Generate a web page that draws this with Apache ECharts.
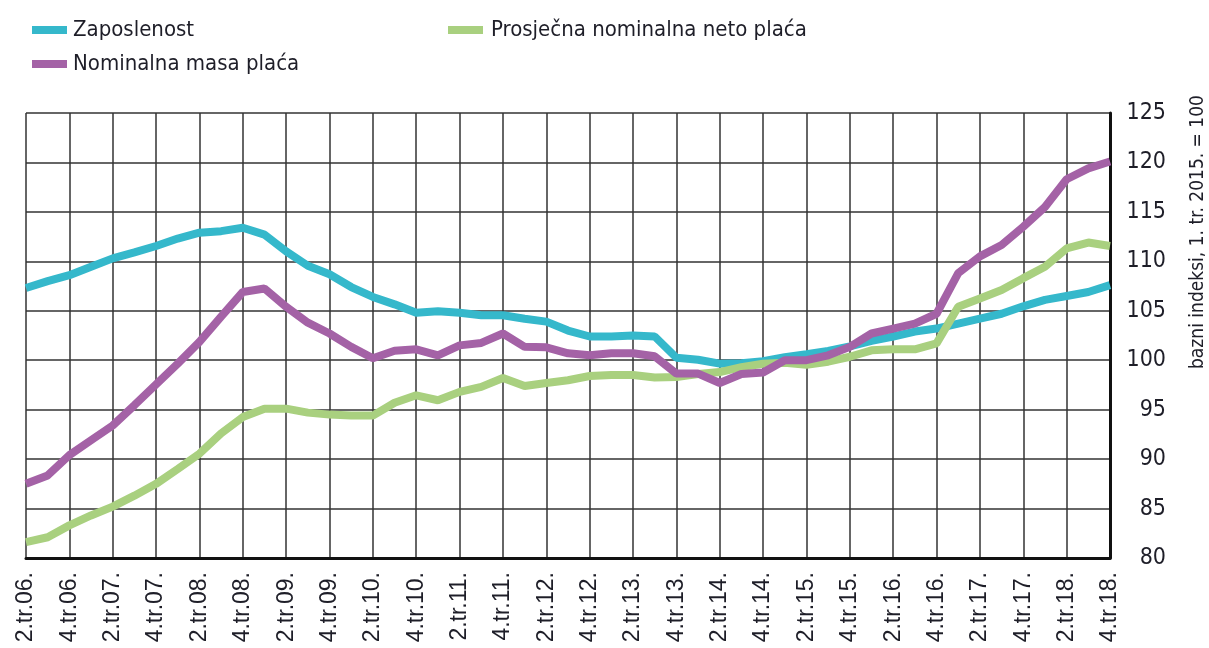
<!DOCTYPE html>
<html>
<head>
<meta charset="utf-8">
<script src="https://cdn.jsdelivr.net/npm/echarts@6/dist/echarts.min.js"></script>
<style>
html,body{margin:0;padding:0;background:#fff;}
#chart{width:1209px;height:648px;}
</style>
</head>
<body>
<div id="chart"></div>
<script>
var categories = [
  "2.tr.06.","3.tr.06.","4.tr.06.",
  "1.tr.07.","2.tr.07.","3.tr.07.","4.tr.07.",
  "1.tr.08.","2.tr.08.","3.tr.08.","4.tr.08.",
  "1.tr.09.","2.tr.09.","3.tr.09.","4.tr.09.",
  "1.tr.10.","2.tr.10.","3.tr.10.","4.tr.10.",
  "1.tr.11.","2.tr.11.","3.tr.11.","4.tr.11.",
  "1.tr.12.","2.tr.12.","3.tr.12.","4.tr.12.",
  "1.tr.13.","2.tr.13.","3.tr.13.","4.tr.13.",
  "1.tr.14.","2.tr.14.","3.tr.14.","4.tr.14.",
  "1.tr.15.","2.tr.15.","3.tr.15.","4.tr.15.",
  "1.tr.16.","2.tr.16.","3.tr.16.","4.tr.16.",
  "1.tr.17.","2.tr.17.","3.tr.17.","4.tr.17.",
  "1.tr.18.","2.tr.18.","3.tr.18.","4.tr.18."
];
var zaposlenost = [107.3, 108.0, 108.6, 109.45, 110.3, 110.9, 111.55, 112.3, 112.9, 113.05, 113.4, 112.7, 111.0, 109.55, 108.7, 107.4, 106.4, 105.65, 104.8, 104.95, 104.8, 104.55, 104.55, 104.2, 103.9, 103.0, 102.4, 102.4, 102.5, 102.4, 100.25, 100.05, 99.65, 99.7, 99.9, 100.3, 100.6, 100.95, 101.4, 101.95, 102.4, 102.9, 103.2, 103.7, 104.2, 104.7, 105.45, 106.1, 106.5, 106.9, 107.6];
var masaPlaca = [87.5, 88.35, 90.4, 91.9, 93.4, 95.45, 97.55, 99.65, 101.85, 104.4, 106.9, 107.25, 105.4, 103.8, 102.7, 101.35, 100.2, 100.95, 101.1, 100.5, 101.5, 101.75, 102.7, 101.35, 101.3, 100.7, 100.5, 100.7, 100.7, 100.4, 98.65, 98.65, 97.7, 98.6, 98.75, 100.0, 100.0, 100.5, 101.35, 102.7, 103.2, 103.7, 104.7, 108.8, 110.5, 111.65, 113.5, 115.5, 118.3, 119.4, 120.1];
var netoPlaca = [81.6, 82.1, 83.3, 84.3, 85.2, 86.3, 87.5, 89.0, 90.55, 92.6, 94.25, 95.1, 95.1, 94.7, 94.5, 94.4, 94.4, 95.7, 96.45, 95.95, 96.8, 97.3, 98.2, 97.4, 97.7, 97.97, 98.4, 98.5, 98.5, 98.25, 98.3, 98.6, 98.8, 99.3, 99.65, 99.75, 99.55, 99.85, 100.35, 101.0, 101.1, 101.1, 101.7, 105.4, 106.25, 107.1, 108.3, 109.45, 111.3, 111.9, 111.55];
var seriesNames = ["Zaposlenost", "Nominalna masa plaća", "Prosječna nominalna neto plaća"];
var yTicks = {min: 80, max: 125, step: 5};
var axisName = "bazni indeksi, 1. tr. 2015. = 100";

var NARROW = "'Liberation Sans Narrow','DejaVu Sans Condensed','Roboto Condensed','Arial Narrow',sans-serif";
var colors = ["#35b8cb", "#a462a6", "#a9d07f"];
var chart = echarts.init(document.getElementById('chart'));
chart.setOption({
  animation: false,
  grid: {left: 26, top: 113, right: 99, bottom: 90, containLabel: false},
  legend: [
    {data: [seriesNames[0], seriesNames[1]], orient: 'vertical', left: 27, top: 14,
     itemWidth: 35, itemHeight: 8, itemGap: 12, icon: 'rect',
     textStyle: {fontFamily: NARROW, fontSize: 22, color: '#1e1e28', padding: [0, 0, 0, 1]}},
    {data: [seriesNames[2]], orient: 'vertical', left: 443, top: 14,
     itemWidth: 35, itemHeight: 8, itemGap: 12, icon: 'rect',
     textStyle: {fontFamily: NARROW, fontSize: 22, color: '#1e1e28', padding: [0, 0, 0, 3]}}
  ],
  xAxis: {
    type: 'category', data: categories, boundaryGap: false,
    axisLine: {show: true, lineStyle: {color: '#111', width: 3}},
    axisTick: {show: false},
    axisLabel: {interval: 1, rotate: 90, margin: 14, fontSize: 23, fontFamily: "'Liberation Sans',Arial,sans-serif", color: '#1e1e28'},
    splitLine: {show: true, interval: 1, lineStyle: {color: '#333', width: 1.5}}
  },
  yAxis: {
    type: 'value', position: 'right', min: yTicks.min, max: yTicks.max, interval: yTicks.step,
    axisLine: {show: true, lineStyle: {color: '#111', width: 3}},
    axisTick: {show: false},
    axisLabel: {margin: 56, align: 'right', fontSize: 23, fontFamily: NARROW, color: '#1e1e28'},
    splitLine: {show: true, lineStyle: {color: '#333', width: 1.5}}
  },
  graphic: [{
    type: 'text', x: 1198, y: 232, rotation: Math.PI / 2,
    style: {text: axisName, fontSize: 19, fontFamily: NARROW, fill: '#1e1e28', align: 'center', verticalAlign: 'middle'}
  }],
  series: [
    {name: seriesNames[0], type: 'line', data: zaposlenost, showSymbol: false, z: 2,
     lineStyle: {color: colors[0], width: 8}, itemStyle: {color: colors[0]}},
    {name: seriesNames[2], type: 'line', data: netoPlaca, showSymbol: false, z: 3,
     lineStyle: {color: colors[2], width: 8}, itemStyle: {color: colors[2]}},
    {name: seriesNames[1], type: 'line', data: masaPlaca, showSymbol: false, z: 4,
     lineStyle: {color: colors[1], width: 8}, itemStyle: {color: colors[1]}}
  ]
});
</script>
</body>
</html>
